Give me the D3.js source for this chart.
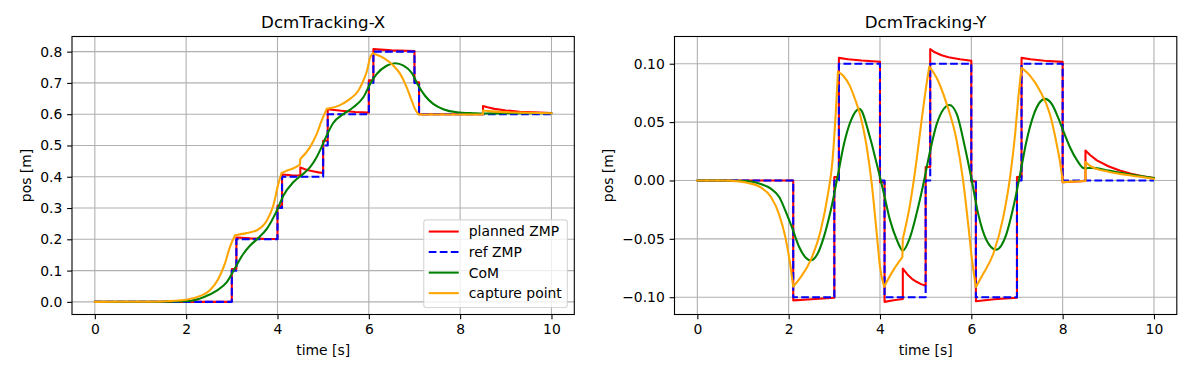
<!DOCTYPE html>
<html>
<head>
<meta charset="utf-8">
<script src="https://cdn.jsdelivr.net/npm/d3@7"></script>
<style>
  body { margin: 0; background: #fff; }
  svg { display: block; }
  text { font-family: "DejaVu Sans", sans-serif; fill: #000; }
</style>
</head>
<body>
<svg id="chart" width="1200" height="366"></svg>
<script>
// ---------------- DATA ----------------
const seriesNames = ["planned ZMP", "ref ZMP", "CoM", "capture point"];
const timeTicks = [0, 2, 4, 6, 8, 10];
const posTicksX = [0, 0.1, 0.2, 0.3, 0.4, 0.5, 0.6, 0.7, 0.8];
const posTicksY = [-0.10, -0.05, 0.00, 0.05, 0.10];

// X direction: each series = list of segments, each segment = [time, value] points
const plannedZmpX = [[
  [0,0],[3.0,0],[3.0,0.105],[3.1,0.105],[3.1,0.206],[3.4,0.203],[3.7,0.2015],[4.0,0.201],
  [4.0,0.307],[4.1,0.307],[4.1,0.407],[4.3,0.405],[4.5,0.404],[4.5,0.43],[4.6,0.424],
  [4.7,0.42],[4.8,0.417],[4.9,0.414],[5.0,0.412],[5.0,0.515],[5.1,0.515],[5.1,0.616],
  [5.4,0.611],[5.7,0.607],[6.0,0.605],[6.0,0.708],[6.1,0.708],[6.1,0.808],[6.5,0.804],
  [7.0,0.802],[7.0,0.702],[7.1,0.702],[7.1,0.6],[8.5,0.6],[8.5,0.626],[8.6,0.622],
  [8.75,0.617],[9.0,0.612],[9.3,0.608],[9.6,0.606],[10,0.604]
]];
const refZmpX = [[
  [0,0],[3.0,0],[3.0,0.1],[3.1,0.1],[3.1,0.2],[4.0,0.2],[4.0,0.3],[4.1,0.3],[4.1,0.4],
  [5.0,0.4],[5.0,0.5],[5.1,0.5],[5.1,0.6],[6.0,0.6],[6.0,0.7],[6.1,0.7],[6.1,0.8],
  [7.0,0.8],[7.0,0.7],[7.1,0.7],[7.1,0.6],[10,0.6]
]];
const comX = [[
  [0,0],[1.0,0.0001],[1.5,0.0006],[2.0,0.002],[2.38,0.015],[2.67,0.036],[2.89,0.063],
  [3.07,0.108],[3.25,0.153],[3.4,0.18],[3.55,0.2],[3.77,0.234],[3.98,0.29],[4.13,0.34],
  [4.35,0.383],[4.57,0.41],[4.71,0.43],[4.86,0.463],[4.95,0.49],[5.08,0.533],[5.22,0.572],
  [5.44,0.6],[5.66,0.622],[5.88,0.654],[6.03,0.697],[6.17,0.728],[6.39,0.755],[6.58,0.763],
  [6.76,0.755],[6.94,0.732],[7.09,0.69],[7.23,0.659],[7.41,0.633],[7.63,0.616],
  [7.93,0.606],[8.29,0.603],[8.5,0.602],[9.0,0.603],[10,0.603]
]];
const capturePointX = [
  [[0,0],[0.5,0.0001],[1.0,0.0002],[1.5,0.0013],[2.0,0.0065],[2.31,0.019],[2.52,0.037],
   [2.71,0.075],[2.85,0.123],[2.96,0.176],[3.07,0.213]],
  [[3.07,0.213],[3.3,0.219],[3.55,0.229],[3.77,0.261],[3.91,0.309],[4.02,0.378],[4.09,0.412]],
  [[4.09,0.412],[4.2,0.419],[4.35,0.427],[4.49,0.439]],
  [[4.49,0.439],[4.5,0.457]],
  [[4.5,0.457],[4.71,0.494],[4.86,0.537],[4.97,0.58],[5.08,0.617]],
  [[5.08,0.617],[5.37,0.629],[5.59,0.649],[5.77,0.675],[5.88,0.707],[5.96,0.739],[6.03,0.782],[6.09,0.795]],
  [[6.09,0.795],[6.32,0.78],[6.54,0.755],[6.69,0.728],[6.83,0.686],[6.94,0.643],[7.01,0.617],[7.09,0.599]],
  [[7.09,0.599],[8.5,0.599]],
  [[8.5,0.599],[8.5,0.612]],
  [[8.5,0.612],[8.7,0.609],[9.0,0.6065],[9.5,0.6045],[10,0.603]]
];

// Y direction
const plannedZmpY = [[
  [0,0],[2.1,0],[2.1,-0.1027],[2.5,-0.1017],[3.0,-0.1005],[3.0,0.003],[3.1,0.003],
  [3.1,0.105],[3.3,0.1038],[3.6,0.1027],[4.0,0.1017],[4.0,-0.0015],[4.1,-0.0015],
  [4.1,-0.104],[4.3,-0.1027],[4.5,-0.1015],[4.5,-0.0755],[4.6,-0.0805],[4.7,-0.0843],
  [4.8,-0.0868],[4.9,-0.0888],[5.0,-0.0902],[5.0,0.0115],[5.1,0.0115],[5.1,0.1125],
  [5.2,0.1098],[5.35,0.1072],[5.5,0.1056],[5.75,0.1038],[6.0,0.1026],[6.0,-0.0008],
  [6.1,-0.0008],[6.1,-0.1035],[6.5,-0.1018],[7.0,-0.1005],[7.0,0.003],[7.1,0.003],
  [7.1,0.105],[7.3,0.1038],[7.6,0.1026],[8.0,0.1016],[8.0,-0.0015],[8.5,-0.0005],
  [8.5,0.0257],[8.6,0.0218],[8.75,0.0172],[9.0,0.0122],[9.25,0.0085],[9.5,0.0058],
  [9.75,0.0036],[10,0.002]
]];
const refZmpY = [[
  [0,0],[2.1,0],[2.1,-0.1],[3.0,-0.1],[3.0,0],[3.1,0],[3.1,0.1],[4.0,0.1],[4.0,0],
  [4.1,0],[4.1,-0.1],[5.0,-0.1],[5.0,0],[5.1,0],[5.1,0.1],[6.0,0.1],[6.0,0],[6.1,0],
  [6.1,-0.1],[7.0,-0.1],[7.0,0],[7.1,0],[7.1,0.1],[8.0,0.1],[8.0,0],[10,0]
]];
const comY = [[
  [0,0],[0.5,0],[1.09,-0.0006],[1.39,-0.003],[1.61,-0.007],[1.79,-0.014],[1.93,-0.026],
  [2.08,-0.041],[2.23,-0.057],[2.37,-0.066],[2.48,-0.0685],[2.63,-0.063],[2.77,-0.0485],
  [2.92,-0.026],[3.07,0.003],[3.21,0.031],[3.36,0.051],[3.55,0.0613],[3.78,0.037],
  [3.93,0.014],[4.07,-0.0086],[4.22,-0.034],[4.37,-0.051],[4.5,-0.06],[4.66,-0.0485],
  [4.8,-0.0286],[4.95,-0.003],[5.1,0.0257],[5.24,0.048],[5.39,0.061],[5.52,0.0647],
  [5.68,0.057],[5.86,0.0285],[6.01,0.0],[6.15,-0.0286],[6.33,-0.051],[6.54,-0.0593],
  [6.77,-0.0457],[6.92,-0.023],[7.07,0.0057],[7.21,0.034],[7.36,0.0556],[7.5,0.067],
  [7.61,0.0699],[7.76,0.0656],[7.9,0.054],[8.01,0.0428],[8.16,0.0285],[8.31,0.0176],
  [8.47,0.0105],[8.67,0.0108],[9.0,0.0085],[9.5,0.005],[10,0.002]
]];
const capturePointY = [
  [[0,0],[0.5,0],[0.73,-0.0003],[1.09,-0.002],[1.39,-0.006],[1.61,-0.014],[1.79,-0.029],
   [1.93,-0.049],[2.03,-0.071],[2.1,-0.091]],
  [[2.1,-0.091],[2.26,-0.083],[2.48,-0.0685],[2.7,-0.043],[2.85,-0.014],[2.96,0.017],
   [3.03,0.057],[3.08,0.093]],
  [[3.08,0.093],[3.2,0.0895],[3.34,0.081],[3.45,0.07],[3.56,0.057],[3.71,0.0285],
   [3.82,-0.003],[3.93,-0.046],[4.0,-0.074],[4.09,-0.091]],
  [[4.09,-0.091],[4.29,-0.077],[4.49,-0.0657]],
  [[4.49,-0.0657],[4.5,-0.05]],
  [[4.5,-0.05],[4.66,-0.02],[4.8,0.017],[4.91,0.051],[5.01,0.08],[5.08,0.0976]],
  [[5.08,0.0976],[5.24,0.088],[5.46,0.0656],[5.68,0.034],[5.82,0.0],[5.93,-0.037],
   [6.01,-0.066],[6.1,-0.0914]],
  [[6.1,-0.0914],[6.26,-0.08],[6.48,-0.063],[6.7,-0.0314],[6.85,0.003],[6.96,0.04],
   [7.03,0.071],[7.1,0.0964]],
  [[7.1,0.0964],[7.28,0.09],[7.5,0.077],[7.72,0.057],[7.87,0.031],[7.98,0.0057],[8.0,-0.0014]],
  [[8.0,-0.0014],[8.5,-0.0005]],
  [[8.5,-0.0005],[8.5,0.0157]],
  [[8.5,0.0157],[8.6,0.0125],[8.75,0.0098],[9.0,0.0075],[9.5,0.0042],[10,0.0015]]
];

// ---------------- STYLE / LAYOUT ----------------
const colors = ["#ff0000", "#0000ff", "#008000", "#ffa500"];
const dashes = [null, "7.7,3.33", null, null];
const curves = [d3.curveLinear, d3.curveLinear, d3.curveMonotoneX, d3.curveMonotoneX];
const LW = 2.08;
const FS = 13.9;
const axTop = 36.5, axBottom = 314.5;

const panels = [
  { title: "DcmTracking-X", left: 72, right: 574.3,
    series: [plannedZmpX, refZmpX, comX, capturePointX],
    yTicks: posTicksX, fmt: d3.format(".1f"), legend: true },
  { title: "DcmTracking-Y", left: 674.5, right: 1176.8,
    series: [plannedZmpY, refZmpY, comY, capturePointY],
    yTicks: posTicksY, fmt: d3.format(".2f"), legend: false }
];

const svg = d3.select("#chart");

panels.forEach(p => {
  const g = svg.append("g");
  const x = d3.scaleLinear().domain([-0.5, 10.5]).range([p.left, p.right]);
  const allV = p.series.flat(2).map(d => d[1]);
  const [mn, mx] = d3.extent(allV);
  const pad = (mx - mn) * 0.05;
  const y = d3.scaleLinear().domain([mn - pad, mx + pad]).range([axBottom, axTop]);

  // grid
  g.append("g").selectAll("line").data(timeTicks).join("line")
    .attr("x1", d => x(d)).attr("x2", d => x(d))
    .attr("y1", axTop).attr("y2", axBottom)
    .attr("stroke", "#b0b0b0").attr("stroke-width", 1.1);
  g.append("g").selectAll("line").data(p.yTicks).join("line")
    .attr("x1", p.left).attr("x2", p.right)
    .attr("y1", d => y(d)).attr("y2", d => y(d))
    .attr("stroke", "#b0b0b0").attr("stroke-width", 1.1);

  // series
  p.series.forEach((segs, i) => {
    const line = d3.line().x(d => x(d[0])).y(d => y(d[1])).curve(curves[i]);
    g.append("path")
      .attr("d", segs.map(s => line(s)).join(""))
      .attr("fill", "none")
      .attr("stroke", colors[i])
      .attr("stroke-width", LW)
      .attr("stroke-linejoin", "round")
      .attr("stroke-linecap", dashes[i] ? "butt" : "round")
      .attr("stroke-dasharray", dashes[i]);
  });

  // frame
  g.append("rect").attr("x", p.left).attr("y", axTop)
    .attr("width", p.right - p.left).attr("height", axBottom - axTop)
    .attr("fill", "none").attr("stroke", "#000").attr("stroke-width", 1.1);

  // axes
  const xa = g.append("g").attr("transform", `translate(0,${axBottom})`)
    .call(d3.axisBottom(x).tickValues(timeTicks).tickFormat(d3.format("d"))
      .tickSizeInner(4.86).tickSizeOuter(0).tickPadding(4.86));
  const ya = g.append("g").attr("transform", `translate(${p.left},0)`)
    .call(d3.axisLeft(y).tickValues(p.yTicks).tickFormat(p.fmt)
      .tickSizeInner(4.86).tickSizeOuter(0).tickPadding(4.86));
  [xa, ya].forEach(a => {
    a.select(".domain").remove();
    a.selectAll(".tick line").attr("stroke", "#000").attr("stroke-width", 1.1);
    a.selectAll(".tick text").attr("font-size", FS).attr("font-family", "DejaVu Sans").attr("fill", "#000");
  });

  // title
  g.append("text").attr("x", (p.left + p.right) / 2).attr("y", 28.2)
    .attr("text-anchor", "middle").attr("font-size", 16.67).text(p.title);
  // x label
  g.append("text").attr("x", (p.left + p.right) / 2).attr("y", 355)
    .attr("text-anchor", "middle").attr("font-size", FS).text("time [s]");
  // y label (placed left of the widest tick label)
  const bb = ya.node().getBBox();
  const lx = p.left + bb.x - 5.56 - 3.3;
  g.append("text").attr("transform", `translate(${lx},${(axTop + axBottom) / 2}) rotate(-90)`)
    .attr("text-anchor", "middle").attr("font-size", FS).text("pos [m]");

  // legend
  if (p.legend) {
    const lg = g.append("g");
    const boxRight = p.right - 6.95, boxBottom = axBottom - 6.95;
    const boxH = 87.7, rowGap = 20.53;
    const boxTop = boxBottom - boxH;
    const texts = lg.selectAll("text").data(seriesNames).join("text")
      .attr("font-size", FS).text(d => d);
    const maxW = d3.max(texts.nodes(), n => n.getComputedTextLength());
    const boxLeft = boxRight - (45 + maxW + 5.6);
    lg.insert("rect", "text").attr("x", boxLeft).attr("y", boxTop)
      .attr("width", boxRight - boxLeft).attr("height", boxH)
      .attr("rx", 2.8).attr("fill", "#fff").attr("fill-opacity", 0.8)
      .attr("stroke", "#cccccc").attr("stroke-opacity", 0.8).attr("stroke-width", 1.1);
    seriesNames.forEach((nm, i) => {
      const ry = boxTop + 11.7 + i * rowGap;
      lg.append("line").attr("x1", boxLeft + 5).attr("x2", boxLeft + 35)
        .attr("y1", ry).attr("y2", ry)
        .attr("stroke", colors[i]).attr("stroke-width", LW)
        .attr("stroke-dasharray", dashes[i]);
    });
    texts.attr("x", boxLeft + 45).attr("y", (d, i) => boxTop + 11.7 + i * rowGap + 4.9);
  }
});
</script>
</body>
</html>
